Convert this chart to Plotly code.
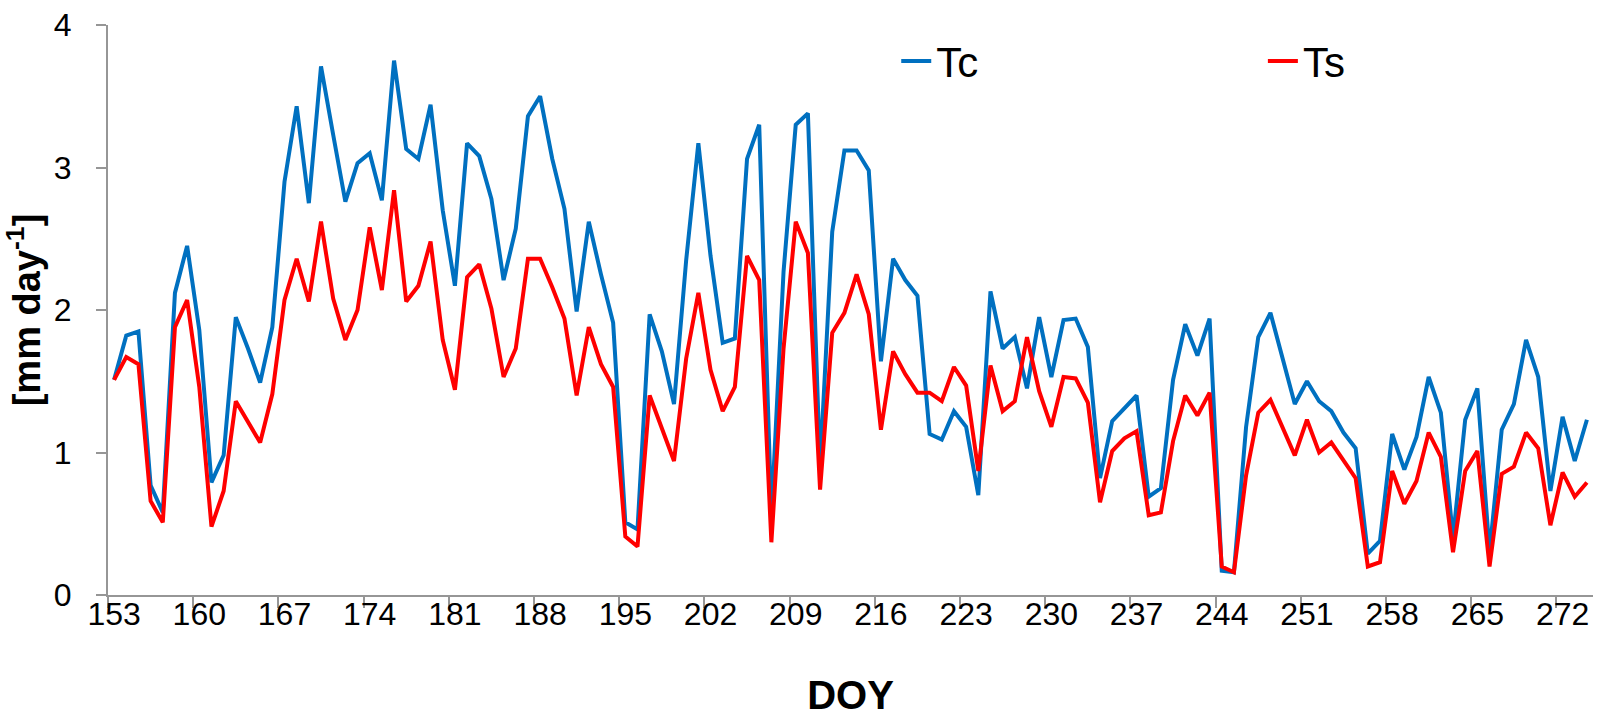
import plotly.graph_objects as go

doy = list(range(153, 275))

tc = [1.51, 1.82, 1.85, 0.77, 0.58, 2.12, 2.45, 1.86, 0.79, 0.98,
      1.95, 1.73, 1.49, 1.88, 2.90, 3.43, 2.75, 3.71, 3.23, 2.76,
      3.03, 3.10, 2.77, 3.75, 3.13, 3.06, 3.44, 2.70, 2.17, 3.17,
      3.08, 2.78, 2.21, 2.57, 3.36, 3.50, 3.06, 2.71, 1.99, 2.62,
      2.25, 1.91, 0.51, 0.46, 1.97, 1.71, 1.34, 2.35, 3.17, 2.38,
      1.77, 1.80, 3.06, 3.30, 0.55, 2.27, 3.30, 3.38, 0.90, 2.55,
      3.12, 3.12, 2.98, 1.64, 2.36, 2.21, 2.10, 1.13, 1.09, 1.29,
      1.18, 0.70, 2.13, 1.73, 1.81, 1.45, 1.95, 1.53, 1.93, 1.94,
      1.74, 0.82, 1.22, 1.31, 1.40, 0.69, 0.75, 1.51, 1.90, 1.68,
      1.94, 0.17, 0.16, 1.18, 1.81, 1.98, 1.66, 1.34, 1.50, 1.36,
      1.29, 1.14, 1.03, 0.29, 0.38, 1.13, 0.88, 1.11, 1.53, 1.28,
      0.40, 1.23, 1.45, 0.30, 1.16, 1.34, 1.79, 1.53, 0.73, 1.25,
      0.94, 1.23]

ts = [1.51, 1.67, 1.62, 0.66, 0.51, 1.88, 2.07, 1.46, 0.48, 0.73,
      1.36, 1.21, 1.07, 1.41, 2.07, 2.36, 2.06, 2.62, 2.08, 1.79,
      2.00, 2.58, 2.14, 2.84, 2.06, 2.17, 2.48, 1.79, 1.44, 2.23,
      2.32, 2.01, 1.53, 1.73, 2.36, 2.36, 2.16, 1.94, 1.40, 1.88,
      1.62, 1.46, 0.41, 0.34, 1.40, 1.17, 0.94, 1.66, 2.12, 1.58,
      1.29, 1.46, 2.38, 2.21, 0.37, 1.73, 2.62, 2.40, 0.74, 1.84,
      1.98, 2.25, 1.97, 1.16, 1.71, 1.55, 1.42, 1.42, 1.36, 1.60,
      1.47, 0.87, 1.61, 1.29, 1.36, 1.81, 1.43, 1.18, 1.53, 1.52,
      1.35, 0.65, 1.01, 1.10, 1.15, 0.56, 0.58, 1.08, 1.40, 1.26,
      1.42, 0.20, 0.16, 0.84, 1.28, 1.37, 1.18, 0.98, 1.23, 1.00,
      1.07, 0.94, 0.82, 0.20, 0.23, 0.87, 0.64, 0.80, 1.14, 0.97,
      0.30, 0.87, 1.01, 0.20, 0.85, 0.90, 1.14, 1.03, 0.49, 0.86,
      0.69, 0.79]

x_labels = list(range(153, 273, 7))
x_tick_marks = [v - 0.5 for v in x_labels]
y_ticks = [0, 1, 2, 3, 4]

NARROW = "Liberation Sans Narrow, Arial Narrow, Liberation Sans, Arial, sans-serif"
REG = "Liberation Sans, Arial, sans-serif"
AXIS_GRAY = "#969696"

fig = go.Figure()
fig.add_trace(go.Scatter(x=doy, y=tc, mode="lines", name="Tc", legend="legend",
                         showlegend=True, line=dict(color="#0070C0", width=4)))
fig.add_trace(go.Scatter(x=doy, y=ts, mode="lines", name="Ts", legend="legend2",
                         showlegend=True, line=dict(color="#FF0000", width=4)))

legend_common = dict(orientation="h", yanchor="middle", xanchor="left",
                     bgcolor="rgba(0,0,0,0)", font=dict(family=NARROW, size=42))

fig.update_layout(
    width=1604, height=717,
    margin=dict(l=107.5, r=11, t=25, b=122),
    paper_bgcolor="white", plot_bgcolor="white",
    font=dict(family=NARROW, color="black"),
    showlegend=True,
    legend=dict(x=0.5308, y=0.9365, **legend_common),
    legend2=dict(x=0.7777, y=0.9365, **legend_common),
    xaxis=dict(
        range=[152.5, 274.5], tickmode="array", tickvals=x_labels,
        ticktext=[str(v) for v in x_labels], ticks="", ticklabelstandoff=-10,
        tickfont=dict(family=NARROW, size=32),
        minor=dict(tickmode="array", tickvals=x_tick_marks, ticks="outside",
                   ticklen=11, tickwidth=2, tickcolor=AXIS_GRAY, showgrid=False),
        showline=True, linecolor=AXIS_GRAY, linewidth=2,
        showgrid=False, zeroline=False, automargin=False,
        title=dict(text="<b>DOY</b>", font=dict(family=NARROW, size=40), standoff=88),
    ),
    yaxis=dict(
        range=[0, 4], tickmode="array", tickvals=y_ticks,
        ticks="outside", ticklen=10, tickwidth=2, tickcolor=AXIS_GRAY,
        ticklabelstandoff=18,
        tickfont=dict(family=NARROW, size=32),
        showline=True, linecolor=AXIS_GRAY, linewidth=2,
        showgrid=False, zeroline=False, automargin=False,
        title=dict(text="<b>[mm day<sup>-1</sup>]</b>", font=dict(family=REG, size=38), standoff=12),
    ),
)

fig.write_html(
    "out.html",
    config={"displayModeBar": False},
    post_script="document.body.style.margin='0';document.body.style.overflow='hidden';",
)
